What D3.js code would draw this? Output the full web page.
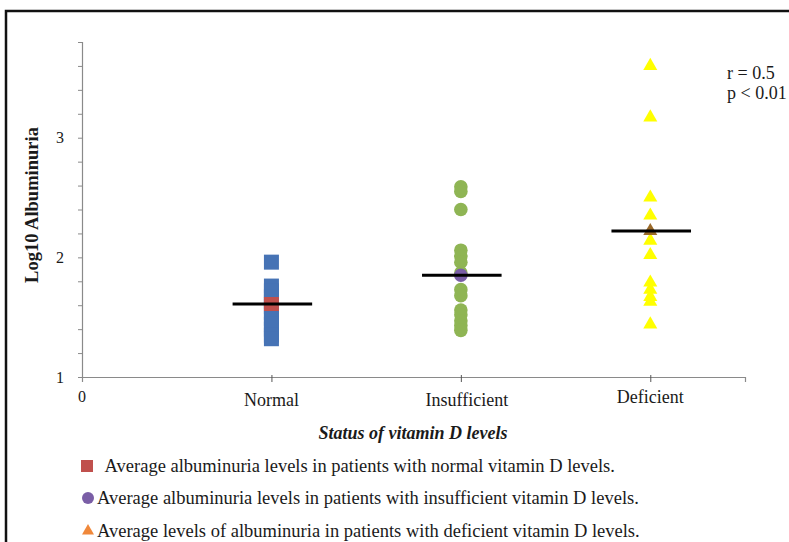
<!DOCTYPE html>
<meta charset="utf-8">

<!-- Load d3.js -->
<script src="https://d3js.org/d3.v7.min.js"></script>
<style>
body { margin: 0; background: #fff; }
text { font-family: "Liberation Serif", "Times New Roman", serif; fill: #1a1a1a; }
</style>
<!-- Create a div where the graph will take place -->
<div id="my_dataviz"></div>
<script>

  // data (log10 albuminuria)
  var categories = ["Normal", "Insufficient", "Deficient"];
  var normalValues = [1.96, 1.76, 1.72, 1.67, 1.63, 1.59, 1.54, 1.49, 1.44, 1.40, 1.35, 1.32];
  var insufficientValues = [2.59, 2.55, 2.40, 2.06, 2.01, 1.96, 1.87, 1.73, 1.68, 1.56, 1.52, 1.47, 1.43, 1.39];
  var deficientValues = [3.60, 3.17, 2.50, 2.35, 2.14, 2.02, 1.79, 1.73, 1.67, 1.63, 1.44];
  var means = [1.61, 1.85, 2.22];
  var yTicks = [1, 1.2, 1.4, 1.6, 1.8, 2, 2.2, 2.4, 2.6, 2.8, 3, 3.2, 3.4, 3.6, 3.8];
  var legendLabels = [
    " Average albuminuria levels in patients with normal vitamin D levels.",
    "Average albuminuria levels in patients with insufficient vitamin D levels.",
    "Average levels of albuminuria in patients with deficient vitamin D levels."
  ];
  var statLines = ["r = 0.5", "p < 0.01"];

  var width = 789, height = 542;

  var svg = d3.select("#my_dataviz")
    .append("svg")
      .attr("width", width)
      .attr("height", height);

  // frame round the figure
  svg.append("rect")
    .attr("x", 6).attr("y", 11)
    .attr("width", 800).attr("height", 560)
    .attr("fill", "none")
    .attr("stroke", "#111")
    .attr("stroke-width", 2.5);

  // scales
  var x = d3.scaleLinear().domain([0, 3.5]).range([82, 745]);
  var y = d3.scaleLinear().domain([1, 3.8]).range([377, 42]);

  // Y axis
  var yAxis = svg.append("g")
    .attr("transform", "translate(" + x(0) + ",0)")
    .call(d3.axisLeft(y)
      .tickValues(yTicks)
      .tickSize(4)
      .tickPadding(14)
      .tickFormat(function (d) { return Number.isInteger(d) ? d : ""; }));
  yAxis.attr("font-family", null);
  yAxis.select(".domain").attr("stroke", "#8a8a8a").attr("stroke-width", 1.2);
  yAxis.selectAll(".tick line").attr("stroke", "#8a8a8a");
  yAxis.selectAll(".tick text")
    .style("font-size", "16px")
    .attr("fill", "#333");

  // X axis
  var xAxis = svg.append("g")
    .attr("transform", "translate(0," + y(1) + ")")
    .call(d3.axisBottom(x)
      .tickValues([1, 2, 3])
      .tickSize(5)
      .tickFormat(""));
  xAxis.select(".domain").attr("stroke", "#8a8a8a").attr("stroke-width", 1.2);
  xAxis.selectAll(".tick line").attr("stroke", "#555").attr("y1", -2);

  svg.append("text")
    .attr("x", x(0)).attr("y", 402)
    .attr("text-anchor", "middle")
    .style("font-size", "16px")
    .attr("fill", "#333")
    .text("0");

  // category labels
  svg.selectAll(".cat")
    .data(categories)
    .enter()
    .append("text")
      .attr("x", function (d, i) { return x(i + 1) + (i == 1 ? 6 : 0); })
      .attr("y", function (d, i) { return i == 2 ? 403 : 406; })
      .attr("text-anchor", "middle")
      .style("font-size", "18px")
      .text(function (d) { return d; });

  // axis titles
  svg.append("text")
    .attr("transform", "translate(38," + 205 + ") rotate(-90)")
    .attr("text-anchor", "middle")
    .style("font-size", "18.5px")
    .style("font-weight", "bold")
    .text("Log10 Albuminuria");

  svg.append("text")
    .attr("x", 413).attr("y", 439)
    .attr("text-anchor", "middle")
    .style("font-size", "18px")
    .style("font-weight", "bold")
    .style("font-style", "italic")
    .text("Status of vitamin D levels");

  // statistics
  svg.selectAll(".stat")
    .data(statLines)
    .enter()
    .append("text")
      .attr("x", 727)
      .attr("y", function (d, i) { return 79 + i * 20; })
      .style("font-size", "18px")
      .text(function (d) { return d; });

  // Normal: squares
  svg.append("g")
    .selectAll("rect")
    .data(normalValues)
    .enter()
    .append("rect")
      .attr("x", x(1) - 7.5)
      .attr("y", function (d) { return y(d) - 7.5; })
      .attr("width", 15).attr("height", 15)
      .style("fill", "#4673b5");

  // Insufficient: circles
  svg.append("g")
    .selectAll("circle")
    .data(insufficientValues)
    .enter()
    .append("circle")
      .attr("cx", x(2))
      .attr("cy", function (d) { return y(d); })
      .attr("r", 6.8)
      .style("fill", "#8fb554");

  // Deficient: triangles
  var tri = d3.symbol().type(d3.symbolTriangle).size(85);
  svg.append("g")
    .selectAll("path")
    .data(deficientValues)
    .enter()
    .append("path")
      .attr("d", tri)
      .attr("transform", function (d) { return "translate(" + x(3) + "," + y(d) + ")"; })
      .style("fill", "#ffff00");

  // mean markers
  svg.append("rect")
    .attr("x", x(1) - 7.5).attr("y", y(means[0]) - 7)
    .attr("width", 15).attr("height", 14)
    .style("fill", "#c0504d");
  svg.append("circle")
    .attr("cx", x(2)).attr("cy", y(means[1]))
    .attr("r", 6.8)
    .style("fill", "#7a5ea6");
  svg.append("path")
    .attr("d", tri)
    .attr("transform", "translate(" + x(3) + "," + y(means[2]) + ")")
    .style("fill", "#9a6a2a");

  // mean lines
  svg.append("g")
    .selectAll("line")
    .data(means)
    .enter()
    .append("line")
      .attr("x1", function (d, i) { return x(i + 1 - 0.205); })
      .attr("x2", function (d, i) { return x(i + 1 + 0.215); })
      .attr("y1", function (d) { return y(d); })
      .attr("y2", function (d) { return y(d); })
      .attr("stroke", "#000")
      .attr("stroke-width", 3);

  // legend
  var legendY = [466, 498, 531];
  var legendX = [101, 97, 97];
  svg.append("rect")
    .attr("x", 81).attr("y", legendY[0] - 6)
    .attr("width", 12).attr("height", 12)
    .style("fill", "#c0504d");
  svg.append("circle")
    .attr("cx", 88).attr("cy", legendY[1])
    .attr("r", 6)
    .style("fill", "#7a5ea6");
  svg.append("path")
    .attr("d", d3.symbol().type(d3.symbolTriangle).size(62))
    .attr("transform", "translate(88," + legendY[2] + ")")
    .style("fill", "#f0883a");

  svg.selectAll(".leg")
    .data(legendLabels)
    .enter()
    .append("text")
      .attr("x", function (d, i) { return legendX[i]; })
      .attr("y", function (d, i) { return legendY[i] + 6; })
      .style("font-size", "18.5px")
      .attr("xml:space", "preserve")
      .text(function (d) { return d; });

</script>
